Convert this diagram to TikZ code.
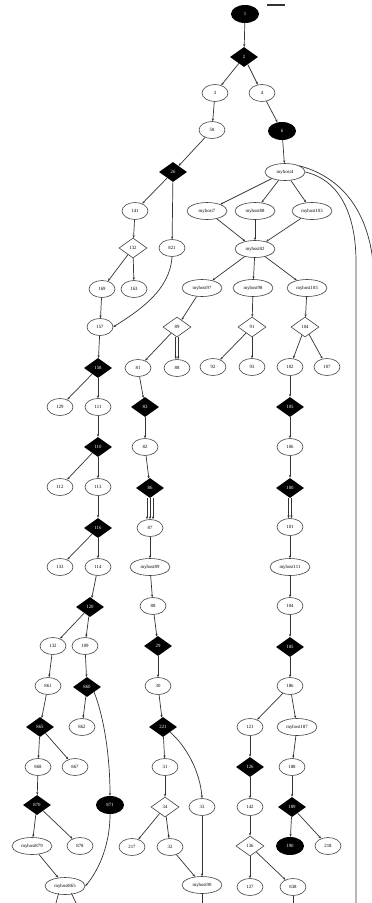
\documentclass[tikz,border=0pt]{standalone}
\usepackage{fontspec}
\setmainfont{Liberation Serif}
\usetikzlibrary{shapes.geometric,arrows.meta}
\begin{document}
\begin{tikzpicture}[x=1pt,y=-1pt,
  every node/.style={font=\fontsize{4.8}{5.5}\selectfont, inner sep=0pt},
  ell/.style={ellipse, draw=black!75, fill=white, line width=0.6pt, minimum width=26pt, minimum height=17pt},
  host/.style={ell, minimum width=40pt},
  bell/.style={ellipse, fill=black, text=white, minimum width=28pt, minimum height=18pt},
  bdia/.style={diamond, fill=black, text=white, minimum width=28pt, minimum height=20pt},
  wdia/.style={diamond, draw=black!75, fill=white, line width=0.6pt, minimum width=28pt, minimum height=20pt},
  edge/.style={draw=black!80, line width=0.7pt, -{Stealth[length=2.8pt,width=2.2pt]}},
  plain/.style={draw=black!80, line width=0.7pt}]
\useasboundingbox (0,0) rectangle (372,903);
\fill[white] (0,0) rectangle (372,903);

% left column
\node[bell] (n1) at (245,14) {1};
\node[bdia] (n2) at (244,57) {2};
\node[ell] (n3) at (215,93) {3};
\node[ell] (n4) at (262,93) {4};
\node[ell] (n5) at (212,130) {58};
\node[bell] (n6) at (282,131) {6};
\node[bdia] (d26) at (173,172) {26};
\node[ell] (n141) at (135,211) {141};
\node[ell] (n821) at (172,248) {821};
\node[wdia] (w132) at (133,248) {132};
\node[ell] (n169) at (102,289) {169};
\node[ell] (n163) at (134,289) {163};
\node[ell] (n157) at (100,327) {157};
\node[bdia] (d158) at (98,368) {158};
\node[ell] (n129) at (60,407) {129};
\node[ell] (n111) at (98,407) {111};
\node[bdia] (d110) at (98,447) {110};
\node[ell] (n112) at (60,487) {112};
\node[ell] (n113) at (98,487) {113};
\node[bdia] (d116) at (98,528) {116};
\node[ell] (n133) at (60,567) {133};
\node[ell] (n114) at (98,567) {114};
\node[bdia] (d120) at (90,607) {120};
\node[ell] (n132) at (53,646) {132};
\node[ell] (n109) at (85,646) {109};
\node[ell] (n861) at (48,686) {861};
\node[bdia] (d860) at (87,687) {860};
\node[bdia] (d865) at (40,727) {865};
\node[ell] (n862) at (82,727) {862};
\node[ell] (n868) at (38,767) {868};
\node[ell] (n867) at (75,767) {867};
\node[bdia] (d870) at (37,805) {870};
\node[bell] (b871) at (110,805) {871};
\node[host] (h879) at (32,846) {myhost879};
\node[ell] (n878) at (80,846) {878};
\node[host] (h865) at (65,886) {myhost865};

% host block
\node[host] (h4) at (285,172) {myhost4};
\node[host] (h7) at (207,211) {myhost7};
\node[host] (h88) at (255,211) {myhost88};
\node[host] (h103) at (312,211) {myhost103};
\node[host] (h82) at (255,249) {myhost82};
\node[host] (h97) at (202,288) {myhost97};
\node[host] (h98) at (253,288) {myhost98};
\node[host] (h103b) at (307,288) {myhost103};

% middle column
\node[wdia] (w89) at (177,327) {89};
\node[ell] (n81) at (138,368) {81};
\node[ell] (n88) at (177,368) {88};
\node[wdia] (w91) at (252,327) {91};
\node[ell] (n92) at (213,367) {92};
\node[ell] (n93) at (252,367) {93};
\node[wdia] (w104) at (305,327) {104};
\node[ell] (n102) at (290,367) {102};
\node[ell] (n107) at (327,367) {107};
\node[bdia] (d83) at (145,407) {83};
\node[ell] (n82) at (145,447) {82};
\node[bdia] (d86) at (150,488) {86};
\node[ell] (n87) at (150,528) {87};
\node[host] (h89) at (150,567) {myhost89};
\node[ell] (n88b) at (153,606) {88};
\node[bdia] (d29) at (158,646) {29};
\node[ell] (n30) at (158,686) {30};
\node[bdia] (d221) at (163,727) {221};
\node[ell] (n31) at (165,767) {31};
\node[wdia] (w34) at (165,807) {34};
\node[ell] (n33) at (202,807) {33};
\node[ell] (n217) at (132,847) {217};
\node[ell] (n32) at (170,847) {32};
\node[host] (h90) at (202,885) {myhost90};

% right column
\node[bdia] (d105) at (290,407) {105};
\node[ell] (n106) at (290,447) {106};
\node[bdia] (d100) at (290,488) {100};
\node[ell] (n101) at (290,527) {101};
\node[host] (h111) at (290,567) {myhost111};
\node[ell] (n104) at (290,606) {104};
\node[bdia] (d185) at (290,647) {185};
\node[ell] (n186) at (290,686) {186};
\node[ell] (n121) at (250,727) {121};
\node[host] (h187) at (297,727) {myhost187};
\node[bdia] (d126) at (250,767) {126};
\node[ell] (n142) at (250,807) {142};
\node[wdia] (w136) at (250,846) {136};
\node[ell] (n127) at (250,887) {127};
\node[ell] (n188) at (292,767) {188};
\node[bdia] (d189) at (292,807) {189};
\node[bell] (b190) at (290,846) {190};
\node[ell] (n218) at (328,846) {218};
\node[ell] (n838) at (293,887) {838};

% free ends of edges leaving the sheet
\coordinate (topA) at (267,5);
\coordinate (topB) at (285,5);
\coordinate (bendR) at (356,262);
\coordinate (railEnd) at (356,903);
\coordinate (outR) at (373,262);
\coordinate (bot1) at (56,903);
\coordinate (bot2) at (76,903);
\coordinate (bot3) at (202,903);
\coordinate (bot4) at (293,903);

\draw[plain, line width=1.2pt] (topA) -- (topB);

% edges: top
\draw[edge] (n1) -- (n2);
\draw[edge] (n2) -- (n3);
\draw[edge] (n2) -- (n4);
\draw[edge] (n3) -- (n5);
\draw[edge] (n4) -- (n6);
\draw[edge] (n6) -- (h4);
\draw[edge] (n5) -- (d26);
\draw[edge] (d26) -- (n141);
\draw[edge] (d26) -- (n821);
\draw[edge] (n141) -- (w132);
\draw[edge] (w132) -- (n169);
\draw[edge] (w132) -- (n163);
\draw[edge] (n169) -- (n157);
\draw[edge] (n821.south) .. controls (170,290) and (140,310) .. (n157.east);
\draw[edge] (n157) -- (d158);
\draw[edge] (d158) -- (n129);
\draw[edge] (d158) -- (n111);
\draw[edge] (n111) -- (d110);
\draw[edge] (d110) -- (n112);
\draw[edge] (d110) -- (n113);
\draw[edge] (n113) -- (d116);
\draw[edge] (d116) -- (n133);
\draw[edge] (d116) -- (n114);
\draw[edge] (n114) -- (d120);
\draw[edge] (d120) -- (n132);
\draw[edge] (d120) -- (n109);
\draw[edge] (n132) -- (n861);
\draw[edge] (n861) -- (d865);
\draw[edge] (d865) -- (n868);
\draw[edge] (d865) -- (n867);
\draw[edge] (n868) -- (d870);
\draw[edge] (d870) -- (h879);
\draw[edge] (d870) -- (n878);
\draw[edge] (h879) -- (h865);
\draw[edge] (n109) -- (d860);
\draw[edge] (d860) -- (n862);
\draw[edge] (d860.south east) .. controls (105,720) and (110,760) .. (b871.north);
\draw[edge] (b871.south) .. controls (110,850) and (95,875) .. (h865.east);
\draw[plain] (h865.south west) ++(8,1) -- (bot1);
\draw[plain] (h865.south east) ++(-8,1) -- (bot2);

% edges: hosts
\draw[edge] (h4) -- (h7);
\draw[edge] (h4) -- (h88);
\draw[edge] (h4) -- (h103);
\draw[edge] (h7) -- (h82);
\draw[edge] (h88) -- (h82);
\draw[edge] (h103) -- (h82);
\draw[edge] (h82) -- (h97);
\draw[edge] (h82) -- (h98);
\draw[edge] (h82) -- (h103b);
\draw[plain] (h4.east) .. controls (340,180) and (356,215) .. (bendR) -- (railEnd);
\draw[plain] (h4.north east) .. controls (345,178) and (368,215) .. (outR);

% edges: middle column
\draw[edge] (h97) -- (w89);
\draw[edge] (w89) -- (n81);
\draw[edge] ([xshift=-1.2pt]w89.south) -- ([xshift=-1.2pt]n88.north);
\draw[edge] ([xshift=1.2pt]w89.south) -- ([xshift=1.2pt]n88.north);
\draw[edge] (n81) -- (d83);
\draw[edge] (d83) -- (n82);
\draw[edge] (n82) -- (d86);
\draw[edge] ([xshift=-3pt]d86.south) -- ([xshift=-3pt]n87.north);
\draw[edge] (d86.south) -- (n87.north);
\draw[edge] ([xshift=3pt]d86.south) -- ([xshift=3pt]n87.north);
\draw[edge] (n87) -- (h89);
\draw[edge] (h89) -- (n88b);
\draw[edge] (n88b) -- (d29);
\draw[edge] (d29) -- (n30);
\draw[edge] (n30) -- (d221);
\draw[edge] (d221) -- (n31);
\draw[edge] (d221.south east) .. controls (185,745) and (200,770) .. (n33.north);
\draw[edge] (n31) -- (w34);
\draw[edge] (w34) -- (n217);
\draw[edge] (w34) -- (n32);
\draw[edge] (n32) -- (h90);
\draw[edge] (n33) -- (h90);
\draw[plain] (h90) -- (bot3);

\draw[edge] (h98) -- (w91);
\draw[edge] (w91) -- (n92);
\draw[edge] (w91) -- (n93);

% edges: right column
\draw[edge] (h103b) -- (w104);
\draw[edge] (w104) -- (n102);
\draw[edge] (w104) -- (n107);
\draw[edge] (n102) -- (d105);
\draw[edge] (d105) -- (n106);
\draw[edge] (n106) -- (d100);
\draw[edge] ([xshift=-1.5pt]d100.south) -- ([xshift=-1.5pt]n101.north);
\draw[edge] ([xshift=1.5pt]d100.south) -- ([xshift=1.5pt]n101.north);
\draw[edge] (n101) -- (h111);
\draw[edge] (h111) -- (n104);
\draw[edge] (n104) -- (d185);
\draw[edge] (d185) -- (n186);
\draw[edge] (n186) -- (n121);
\draw[edge] (n186) -- (h187);
\draw[edge] (n121) -- (d126);
\draw[edge] (d126) -- (n142);
\draw[edge] (n142) -- (w136);
\draw[edge] (w136) -- (n127);
\draw[edge] (w136) -- (n838);
\draw[edge] (h187) -- (n188);
\draw[edge] (n188) -- (d189);
\draw[edge] (d189) -- (b190);
\draw[edge] (d189) -- (n218);
\draw[plain] (n838) -- (bot4);
\end{tikzpicture}
\end{document}
